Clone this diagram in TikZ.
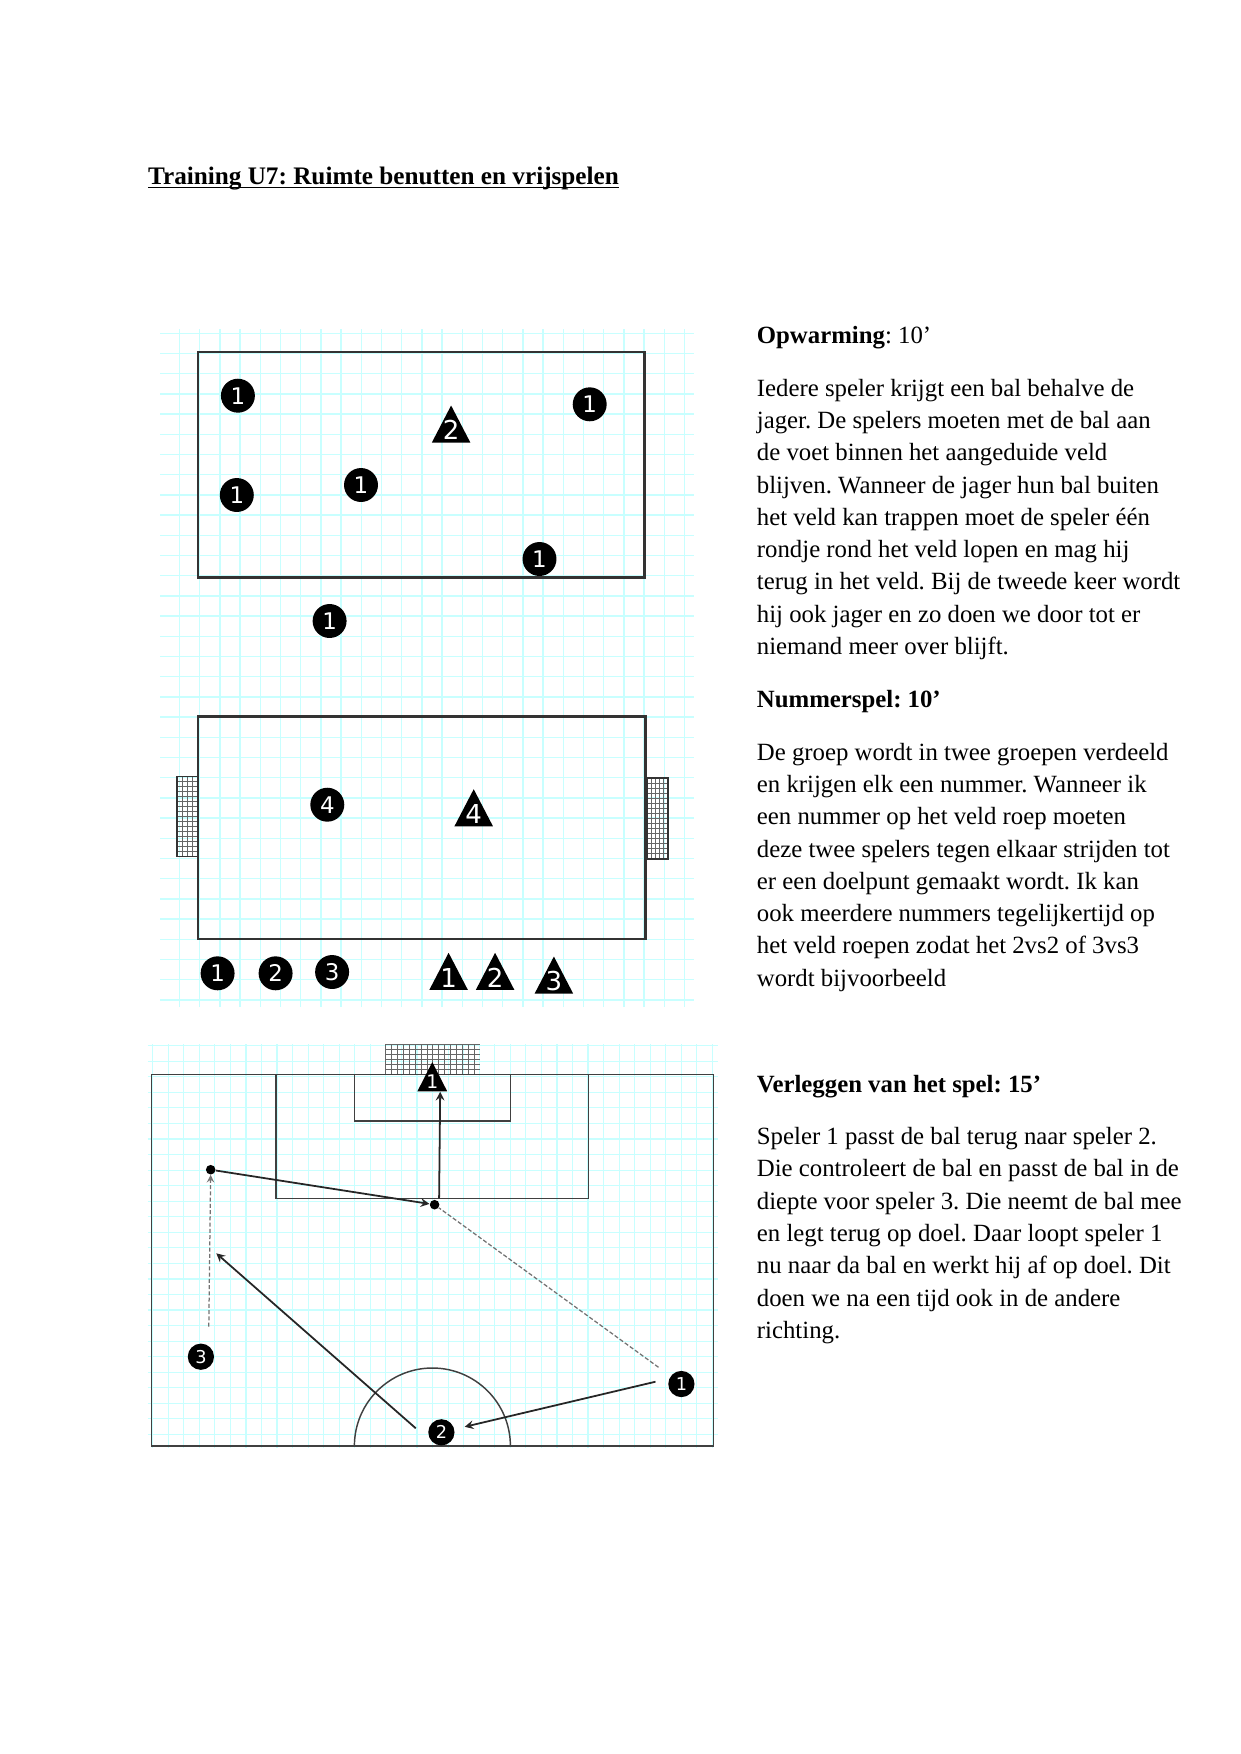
\documentclass[tikz,border=0pt]{standalone}
\usepackage{fontspec}
\setmainfont{Liberation Serif}
\newfontfamily\digitfont{DejaVu Sans}
\usetikzlibrary{shapes.geometric}
\definecolor{gridcyan}{HTML}{C8FFFF}
\newcommand{\lifted}[1]{\smash{\raisebox{-1.9pt}{#1}}}
\frenchspacing
\tikzset{
  lightgrid/.style={draw=gridcyan,line width=0.75pt},
  fieldline/.style={draw=black!80,line width=1.2pt},
  pitchline/.style={draw=black!75,line width=0.7pt},
  netline/.style={draw=black!60,line width=0.4pt},
  player/.style={circle,fill=black,text=white,inner sep=0pt,minimum size=16.3pt,font=\digitfont\fontsize{11}{11}\selectfont},
  smallplayer/.style={player,minimum size=12.6pt,font=\digitfont\fontsize{8.5}{8.5}\selectfont},
  cone/.style={isosceles triangle,shape border rotate=90,isosceles triangle stretches,anchor=lower side,fill=black,text=white,inner sep=0pt,minimum width=18.5pt,minimum height=17.8pt,font=\digitfont\fontsize{12.5}{12.5}\selectfont},
  smallcone/.style={cone,minimum width=14.3pt,minimum height=14pt,font=\digitfont\fontsize{9}{9}\selectfont},
  ball/.style={circle,fill=black,inner sep=0pt,minimum size=4.6pt},
  pass/.style={-stealth,draw=black!85,line width=0.85pt},
  run/.style={dashed,-stealth,draw=black!55,line width=0.6pt,dash pattern=on 2pt off 1pt},
  heading/.style={anchor=base west,inner sep=0pt,font=\fontsize{11.9}{15.5}\selectfont},
  bodytext/.style={anchor=north west,inner sep=0pt,align=left,font=\fontsize{11.9}{15.5}\selectfont}
}
\begin{document}
\begin{tikzpicture}[x=0.48pt,y=-0.48pt]
\useasboundingbox (0,0) rectangle (1241,1754);
\node[anchor=base west,inner sep=0pt,font=\bfseries\fontsize{12.1}{15}\selectfont] (title) at (147.7,184) {\underline{\smash{Training U7: Ruimte benutten en vrijspelen}}};

\draw[lightgrid,shift={(179.5,333.3)},y=0.48pt,step=20.2] (-19.5,-673.7) grid (514.5,4.3);
\draw[fieldline] (198,352) rectangle (644.6,577.4);
\node[player] (warmA) at (237.9,395.7) {1};
\node[player] (warmB) at (589.7,404.3) {1};
\node[player] (warmC) at (236.8,495) {1};
\node[player] (warmD) at (361,485) {1};
\node[player] (warmE) at (539.5,559) {1};
\node[player] (warmF) at (329.6,621) {1};
\node[cone] (hunter) at (451.1,443) {\lifted{2}};

\draw[netline,shift={(177,776.3)},y=0.48pt,xstep=5,ystep=5] (0,-80.4) grid (20.3,0);
\draw[black!80,line width=0.7pt] (177,776.3) rectangle (197.3,856.7);
\draw[netline,shift={(647,778.3)},y=0.48pt,xstep=4,ystep=5] (0,-81) grid (21.4,0);
\draw[black!80,line width=0.9pt] (647,778.3) rectangle (668.4,859.3);
\draw[fieldline] (198,716.7) rectangle (645.5,939);
\node[player] (roundD) at (327.3,804.7) {4};
\node[player] (roundA) at (217.6,973.3) {1};
\node[player] (roundB) at (275.6,973.3) {2};
\node[player] (roundC) at (332.1,972) {3};
\node[cone] (coneD) at (473.7,826.7) {\lifted{4}};
\node[cone] (coneA) at (448.6,990.3) {\lifted{1}};
\node[cone] (coneB) at (495.1,990.3) {\lifted{2}};
\node[cone] (coneC) at (553.9,994) {\lifted{3}};

\draw[lightgrid,line width=0.55pt,shift={(168.2,1045.7)},y=0.48pt,step=15.55] (-20.7,-402.3) grid (549.3,1.7);
\draw[netline,shift={(385.7,1044)},y=0.48pt,xstep=5.9,ystep=5] (0,-30.3) grid (94,0);
\draw[pitchline] (151.6,1074.3) rectangle (713.4,1446);
\draw[pitchline] (276.2,1074.3) rectangle (588.5,1198.3);
\draw[pitchline] (354.4,1074.3) rectangle (510.6,1121);
\draw[pitchline] (354.4,1446) arc[start angle=180,end angle=360,radius=78];
\node[smallcone] (goalPlayer) at (432.3,1091.7) {\smash{\raisebox{-1.2pt}{1}}};
\node[smallplayer] (wideThree) at (200.9,1356.7) {3};
\node[smallplayer] (centreTwo) at (441.4,1432.3) {2};
\node[smallplayer] (wideOne) at (681.4,1384) {1};
\node[ball] (ballWing) at (210.7,1169.7) {};
\node[ball] (ballCentre) at (434.6,1204.7) {};
\coordinate (runThree) at (208.8,1326.7);
\coordinate (runOne) at (658.5,1367.3);
\coordinate (passOne) at (655.5,1381.7);
\coordinate (passTwo) at (415.8,1428.3);
\coordinate (passEnd) at (216.3,1253.3);
\coordinate (shotStart) at (439.1,1198.3);
\coordinate (shotEnd) at (440.2,1091.7);
\draw[pass,shorten >=5pt] (passOne)--(centreTwo);
\draw[pass] (passTwo)--(passEnd);
\draw[pass] (ballWing)--(ballCentre);
\draw[pass] (shotStart)--(shotEnd);
\draw[run] (runThree)--(ballWing);
\draw[run,-] (runOne)--(ballCentre);

\node[heading] (headWarm) at (756.5,343.5) {\textbf{Opwarming}: 10’};
\node[bodytext] (textWarm) at (756.5,378.6) {Iedere speler krijgt een bal behalve de\\jager. De spelers moeten met de bal aan\\de voet binnen het aangeduide veld\\blijven. Wanneer de jager hun bal buiten\\het veld kan trappen moet de speler één\\rondje rond het veld lopen en mag hij\\terug in het veld. Bij de tweede keer wordt\\hij ook jager en zo doen we door tot er\\niemand meer over blijft.};
\node[heading] (headNumber) at (756.5,707) {\textbf{Nummerspel: 10’}};
\node[bodytext] (textNumber) at (756.5,742.5) {De groep wordt in twee groepen verdeeld\\en krijgen elk een nummer. Wanneer ik\\een nummer op het veld roep moeten\\deze twee spelers tegen elkaar strijden tot\\er een doelpunt gemaakt wordt. Ik kan\\ook meerdere nummers tegelijkertijd op\\het veld roepen zodat het 2vs2 of 3vs3\\wordt bijvoorbeeld};
\node[heading] (headShift) at (756.5,1092) {\textbf{Verleggen van het spel: 15’}};
\node[bodytext] (textShift) at (756.5,1127) {Speler 1 passt de bal terug naar speler 2.\\Die controleert de bal en passt de bal in de\\diepte voor speler 3. Die neemt de bal mee\\en legt terug op doel. Daar loopt speler 1\\nu naar da bal en werkt hij af op doel. Dit\\doen we na een tijd ook in de andere\\richting.};
\end{tikzpicture}
\end{document}
